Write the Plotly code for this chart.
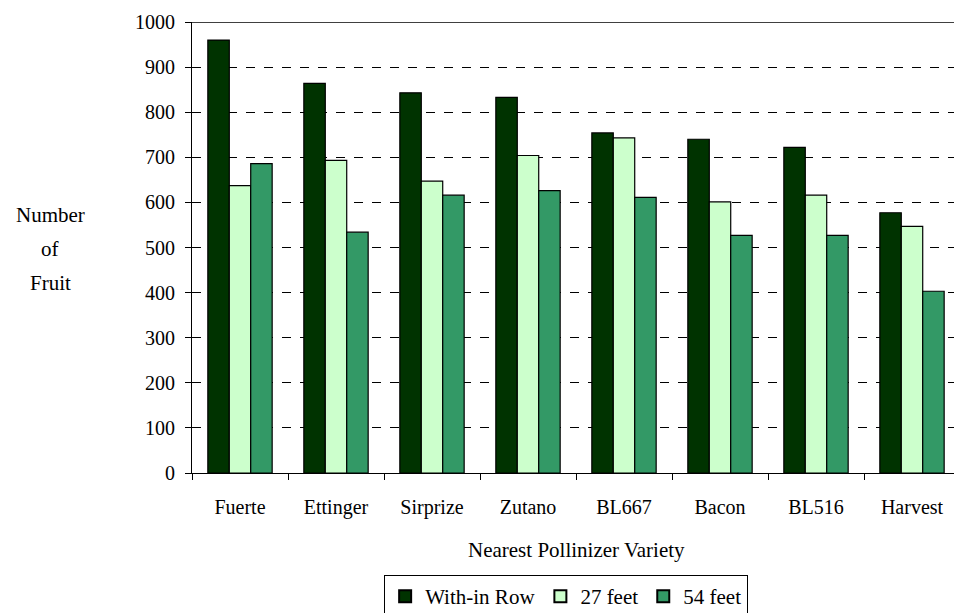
import plotly.graph_objects as go

# Fruit counts by nearest pollinizer variety and distance
varieties = ["Fuerte", "Ettinger", "Sirprize", "Zutano", "BL667", "Bacon", "BL516", "Harvest"]
within_row = [960, 864, 843, 833, 754, 740, 722, 577]
feet_27 = [637, 693, 647, 704, 743, 601, 616, 547]
feet_54 = [686, 534, 616, 626, 611, 527, 527, 403]

series = [
    ("With-in Row", within_row, "#003300"),
    ("27 feet", feet_27, "#CCFFCC"),
    ("54 feet", feet_54, "#339966"),
]

FONT = "'Liberation Serif', 'Times New Roman', Times, serif"

fig = go.Figure()
for name, vals, color in series:
    fig.add_trace(go.Bar(
        x=varieties, y=vals, name=name,
        marker=dict(color=color, line=dict(color="black", width=1.2)),
    ))

fig.update_layout(
    width=954, height=613,
    margin=dict(l=192, r=0, t=22, b=140, autoexpand=False),
    paper_bgcolor="white", plot_bgcolor="white",
    barmode="group", bargap=0.33, bargroupgap=0,
    font=dict(family=FONT, size=20, color="black"),
    showlegend=True,
    legend=dict(
        orientation="h", xref="paper", yref="paper",
        x=0.491, xanchor="center", y=(473 - 575) / 451, yanchor="top",
        bordercolor="black", borderwidth=1,
        font=dict(family=FONT, size=21, color="black"),
        itemsizing="constant", tracegroupgap=0,
        itemwidth=30,
    ),
    xaxis=dict(
        type="category", range=[-0.5, 7.4375],
        showline=True, linecolor="black", linewidth=1,
        ticks="outside", tickson="boundaries", ticklen=6, tickcolor="black",
        ticklabelstandoff=16,
        tickfont=dict(family=FONT, size=20),
        showgrid=False,
    ),
    yaxis=dict(
        range=[0, 1000], dtick=100,
        showline=True, linecolor="black", linewidth=1,
        ticks="outside", ticklen=6, tickcolor="black",
        ticklabelposition="outside", ticklabelstandoff=6,
        tickfont=dict(family=FONT, size=20),
        showgrid=True, gridcolor="black", gridwidth=1, griddash="dash",
        zeroline=False,
    ),
)

# solid top border at the axis maximum
fig.add_shape(type="line", xref="paper", yref="y", x0=0, x1=1, y0=1000, y1=1000,
              line=dict(color="black", width=1.5), layer="above")

# axis titles
for i, word in enumerate(["Number", "of", "Fruit"]):
    fig.add_annotation(text=word, xref="paper", yref="paper",
                       x=(50 - 192) / 762, xanchor="center",
                       y=(473 - (215 + 34 * i)) / 451, yanchor="middle",
                       showarrow=False, font=dict(family=FONT, size=21))

fig.add_annotation(text="Nearest Pollinizer Variety", xref="x", yref="paper",
                   x=3.5, xanchor="center", y=(473 - 550) / 451, yanchor="middle",
                   showarrow=False, font=dict(family=FONT, size=21))

fig.write_html("out.html")
